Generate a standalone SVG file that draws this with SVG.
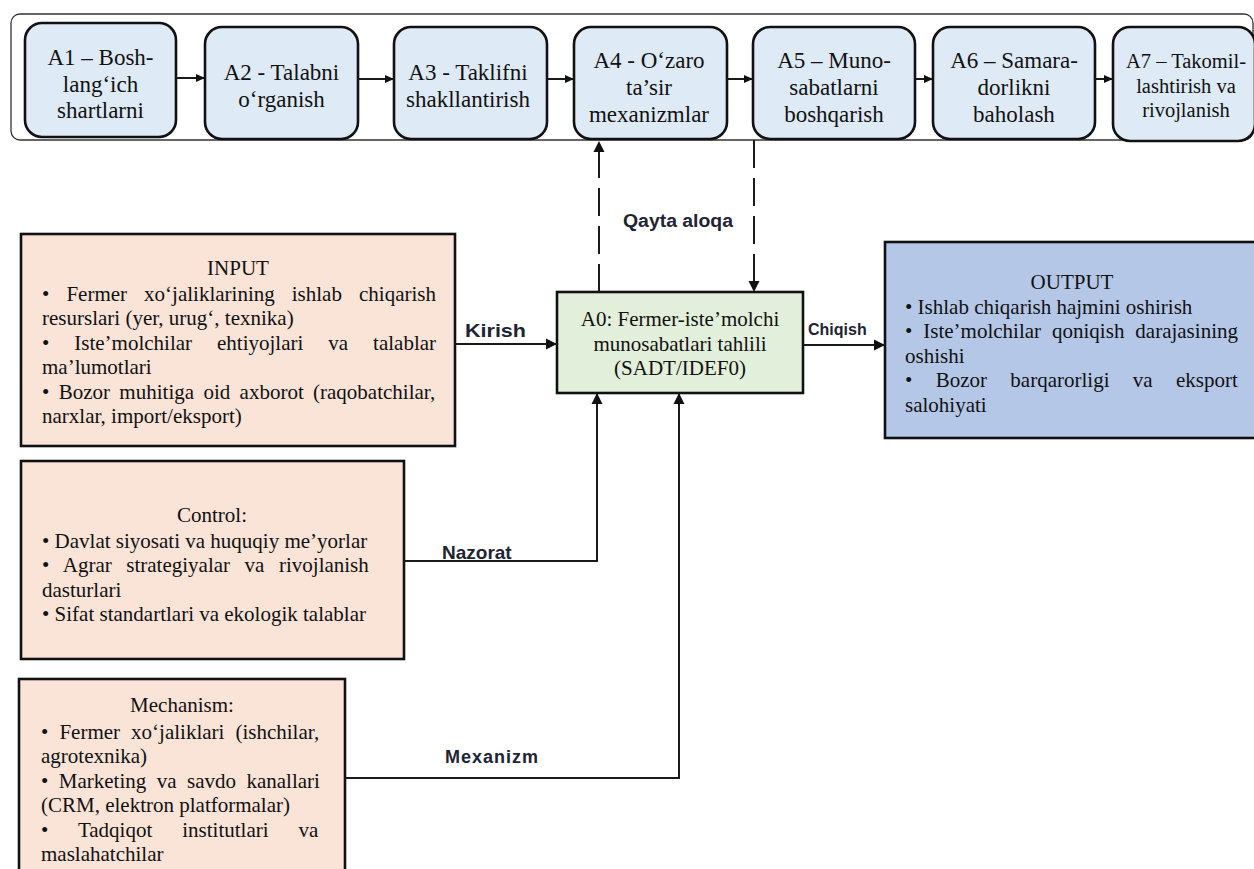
<svg xmlns="http://www.w3.org/2000/svg" width="1254" height="869" viewBox="0 0 1254 869">
<style>
.step{fill:#DEEAF6;stroke:#111;stroke-width:2.6}
.peach{fill:#FAE3D7;stroke:#111;stroke-width:2.6}
.green{fill:#E2EFDA;stroke:#111;stroke-width:2.6}
.blue{fill:#B4C7E7;stroke:#111;stroke-width:2.6}
.t23{font-family:"Liberation Serif","Times New Roman",serif;font-size:23px;fill:#111;text-anchor:middle}
.t20{font-family:"Liberation Serif","Times New Roman",serif;font-size:20.5px;fill:#111;text-anchor:middle}
.body{font-family:"Liberation Serif","Times New Roman",serif;font-size:21px;fill:#111}
.mid{text-anchor:middle}
.lbl{font-family:"Liberation Sans",Arial,sans-serif;font-weight:bold;fill:#1E2433}
.conn{fill:none;stroke:#1a1a1a;stroke-width:2}
.dash{fill:none;stroke:#1a1a1a;stroke-width:2;stroke-dasharray:28 10}
</style>
<defs>
<marker id="ah" markerUnits="userSpaceOnUse" markerWidth="12" markerHeight="12" viewBox="0 0 12 12" refX="11" refY="6" orient="auto">
<path d="M0,0.5 L11,6 L0,11.5 Z" fill="#111"/>
</marker>
<marker id="ahs" markerUnits="userSpaceOnUse" markerWidth="10" markerHeight="10" viewBox="0 0 10 10" refX="9.5" refY="5" orient="auto">
<path d="M0,0.8 L9.5,5 L0,9.2 Z" fill="#111"/>
</marker>
</defs>
<rect width="1254" height="869" fill="#fff"/>

<g id="container">
<rect x="11" y="14" width="1242" height="126" rx="9" fill="none" stroke="#333" stroke-width="1.3"/>
</g>

<g id="A1"><rect class="step" x="25" y="23" width="151" height="114" rx="17"/>
<text class="t23" x="100.5" y="65">A1 – Bosh-</text><text class="t23" x="100.5" y="92">lang‘ich</text><text class="t23" x="100.5" y="118">shartlarni</text></g>
<g id="A2"><rect class="step" x="205" y="27" width="153" height="112" rx="17"/>
<text class="t23" x="281.5" y="80">A2 - Talabni</text><text class="t23" x="281.5" y="107">o‘rganish</text></g>
<g id="A3"><rect class="step" x="394" y="27" width="153" height="112" rx="17"/>
<text class="t23" x="468" y="80">A3 - Taklifni</text><text class="t23" x="468" y="107">shakllantirish</text></g>
<g id="A4"><rect class="step" x="574" y="27" width="153" height="112" rx="17"/>
<text class="t23" x="649" y="68">A4 - O‘zaro</text><text class="t23" x="649" y="95">ta’sir</text><text class="t23" x="649" y="122">mexanizmlar</text></g>
<g id="A5"><rect class="step" x="753" y="27" width="162" height="112" rx="17"/>
<text class="t23" x="834" y="68">A5 – Muno-</text><text class="t23" x="834" y="95">sabatlarni</text><text class="t23" x="834" y="122">boshqarish</text></g>
<g id="A6"><rect class="step" x="933" y="27" width="162" height="112" rx="17"/>
<text class="t23" x="1014" y="68">A6 – Samara-</text><text class="t23" x="1014" y="95">dorlikni</text><text class="t23" x="1014" y="122">baholash</text></g>
<g id="A7"><rect class="step" x="1113" y="27" width="142" height="114" rx="17"/>
<text class="t20" x="1186" y="68">A7 – Takomil-</text><text class="t20" x="1186" y="93">lashtirish va</text><text class="t20" x="1186" y="117">rivojlanish</text></g>

<g id="INPUT"><rect class="peach" x="21" y="234" width="434" height="212"/>
<text class="body mid" x="238" y="275">INPUT</text>
<text class="body" x="42" y="300.5" word-spacing="11.8">• Fermer xo‘jaliklarining ishlab chiqarish</text>
<text class="body" x="42" y="325">resurslari (yer, urug‘, texnika)</text>
<text class="body" x="42" y="349.5" word-spacing="19.7">• Iste’molchilar ehtiyojlari va talablar</text>
<text class="body" x="42" y="374">ma’lumotlari</text>
<text class="body" x="42" y="398.5" word-spacing="4.1">• Bozor muhitiga oid axborot (raqobatchilar,</text>
<text class="body" x="42" y="423">narxlar, import/eksport)</text></g>

<g id="Control"><rect class="peach" x="21" y="461" width="383" height="198"/>
<text class="body mid" x="212" y="522">Control:</text>
<text class="body" x="42" y="547.5">• Davlat siyosati va huquqiy me’yorlar</text>
<text class="body" x="42" y="572" word-spacing="9.3">• Agrar strategiyalar va rivojlanish</text>
<text class="body" x="42" y="596.5">dasturlari</text>
<text class="body" x="42" y="621">• Sifat standartlari va ekologik talablar</text></g>

<g id="Mechanism"><rect class="peach" x="19" y="679" width="326" height="200"/>
<text class="body mid" x="182" y="712">Mechanism:</text>
<text class="body" x="41" y="738.5" word-spacing="5.8">• Fermer xo‘jaliklari (ishchilar,</text>
<text class="body" x="41" y="763">agrotexnika)</text>
<text class="body" x="41" y="787.5" word-spacing="5.2">• Marketing va savdo kanallari</text>
<text class="body" x="41" y="812">(CRM, elektron platformalar)</text>
<text class="body" x="41" y="836.5" word-spacing="24.7">• Tadqiqot institutlari va</text>
<text class="body" x="41" y="861">maslahatchilar</text></g>

<g id="A0"><rect class="green" x="557" y="292" width="246" height="101"/>
<text class="body mid" x="680" y="326">A0: Fermer-iste’molchi</text>
<text class="body mid" x="680" y="351">munosabatlari tahlili</text>
<text class="body mid" x="680" y="375">(SADT/IDEF0)</text></g>

<g id="OUTPUT"><rect class="blue" x="885" y="242" width="380" height="196"/>
<text class="body mid" x="1072" y="289">OUTPUT</text>
<text class="body" x="905" y="313.5">• Ishlab chiqarish hajmini oshirish</text>
<text class="body" x="905" y="338" word-spacing="5.7">• Iste’molchilar qoniqish darajasining</text>
<text class="body" x="905" y="362.5">oshishi</text>
<text class="body" x="905" y="387" word-spacing="18.1">• Bozor barqarorligi va eksport</text>
<text class="body" x="905" y="411.5">salohiyati</text></g>

<g id="connectors">
<line class="conn" x1="176" y1="78" x2="205" y2="78" marker-end="url(#ahs)"/>
<line class="conn" x1="358" y1="79" x2="394" y2="79" marker-end="url(#ahs)"/>
<line class="conn" x1="547" y1="79" x2="574" y2="79" marker-end="url(#ahs)"/>
<line class="conn" x1="727" y1="79" x2="753" y2="79" marker-end="url(#ahs)"/>
<line class="conn" x1="915" y1="79" x2="933" y2="79" marker-end="url(#ahs)"/>
<line class="conn" x1="1095" y1="79" x2="1113" y2="79" marker-end="url(#ahs)"/>
<line class="dash" x1="599" y1="292" x2="599" y2="141" marker-end="url(#ah)"/>
<line class="dash" x1="754" y1="140" x2="754" y2="292" marker-end="url(#ah)"/>
<line class="conn" x1="455" y1="344" x2="557" y2="344" marker-end="url(#ah)"/>
<line class="conn" x1="803" y1="345" x2="885" y2="345" marker-end="url(#ah)"/>
<polyline class="conn" points="404,561 597,561 597,393" marker-end="url(#ah)"/>
<polyline class="conn" points="345,778 679,778 679,393" marker-end="url(#ah)"/>
<text class="lbl" x="623" y="227" font-size="18" textLength="110" lengthAdjust="spacingAndGlyphs">Qayta aloqa</text>
<text class="lbl" x="465" y="337" font-size="19" textLength="61" lengthAdjust="spacingAndGlyphs">Kirish</text>
<text class="lbl" x="808" y="335" font-size="16">Chiqish</text>
<text class="lbl" x="442" y="559" font-size="19">Nazorat</text>
<text class="lbl" x="445" y="763" font-size="18" textLength="93" lengthAdjust="spacing">Mexanizm</text>
</g>
</svg>
